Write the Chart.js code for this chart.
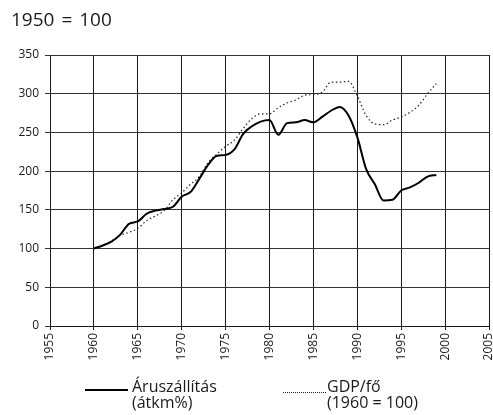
<!DOCTYPE html>
<html>
<head>
<meta charset="utf-8">
<script src="https://cdn.jsdelivr.net/npm/chart.js@4.4.1/dist/chart.umd.min.js"></script>
<style>
  html, body { margin: 0; padding: 0; background: #fff; }
  #wrap { position: relative; width: 493px; height: 415px; font-family: "Open Sans", Lato, sans-serif; color: #1a1a1a; }
  #title { position: absolute; left: 11px; top: 8px; font-size: 19px; line-height: 22px; word-spacing: 2px; }
  .leg { position: absolute; font-size: 16px; line-height: 16px; }
  .sw { position: absolute; width: 43px; height: 0; }
</style>
</head>
<body>
<div id="wrap">
  <canvas id="c" width="493" height="415"></canvas>
  <div id="title">1950 = 100</div>
  <div class="sw" style="left:85px; top:389px; border-top:2px solid #000;"></div>
  <div class="leg" style="left:132px; top:378px;">Áruszállítás<br>(átkm%)</div>
  <div class="sw" style="left:283px; top:392px; border-top:1px dotted #222;"></div>
  <div class="leg" style="left:327px; top:378px;">GDP/fő<br>(1960 = 100)</div>
</div>
<script>
const years = [1960,1961,1962,1963,1964,1965,1966,1967,1968,1969,1970,1971,1972,1973,1974,1975,1976,1977,1978,1979,1980,1981,1982,1983,1984,1985,1986,1987,1988,1989,1990,1991,1992,1993,1994,1995,1996,1997,1998,1999];
const freight = [100,104,109,118,132,135,145,149,151,154,167,173,190,208,220,221,228,248,258,264,266,247,262,263,266,263,270,278,283,272,244,203,183,162,163,175,179,185,193,195];
const gdp = [100,104,110,117,121,126,136,142,149,163,172,183,193,211,222,232,240,255,268,274,274,282,288,292,298,299,302,315,315,316,297,272,261,260,266,270,276,285,300,313];
const xTicks = [1955,1960,1965,1970,1975,1980,1985,1990,1995,2000,2005];
const yTicks = [0,50,100,150,200,250,300,350];

const toPts = (vals) => years.map((y, i) => ({x: y, y: vals[i]}));
const FONT = '"Open Sans", Lato, sans-serif';

new Chart(document.getElementById('c'), {
  type: 'line',
  data: {
    datasets: [
      { label: 'Áruszállítás (átkm%)', data: toPts(freight), borderColor: '#000', borderWidth: 2, pointRadius: 0, cubicInterpolationMode: 'monotone', fill: false },
      { label: 'GDP/fő (1960 = 100)', data: toPts(gdp), borderColor: '#222', borderWidth: 1.2, borderDash: [1.5, 2.5], pointRadius: 0, cubicInterpolationMode: 'monotone', fill: false }
    ]
  },
  options: {
    responsive: false,
    animation: false,
    layout: { autoPadding: false, padding: { top: 55, right: 4, left: 0, bottom: 0 } },
    plugins: { legend: { display: false }, tooltip: { enabled: false }, title: { display: false } },
    scales: {
      x: {
        type: 'linear', min: 1955, max: 2005,
        afterBuildTicks: (s) => { s.ticks = xTicks.map(v => ({value: v})); },
        afterFit: (s) => { s.height = 89; s.paddingLeft = 0; s.paddingRight = 0; },
        grid: { color: '#1a1a1a', lineWidth: 1, tickLength: 4 },
        border: { color: '#1a1a1a', width: 1 },
        ticks: { autoSkip: false, maxRotation: 90, minRotation: 90, padding: 3, color: '#1a1a1a', font: { family: FONT, size: 12 }, callback: (v) => String(v) }
      },
      y: {
        min: 0, max: 350,
        afterBuildTicks: (s) => { s.ticks = yTicks.map(v => ({value: v})); },
        afterFit: (s) => { s.width = 50; s.paddingTop = 0; s.paddingBottom = 0; },
        grid: { color: '#333', lineWidth: 1, tickLength: 5 },
        border: { color: '#1a1a1a', width: 1 },
        ticks: { padding: 6, color: '#1a1a1a', font: { family: FONT, size: 12 } }
      }
    }
  }
});
</script>
</body>
</html>
